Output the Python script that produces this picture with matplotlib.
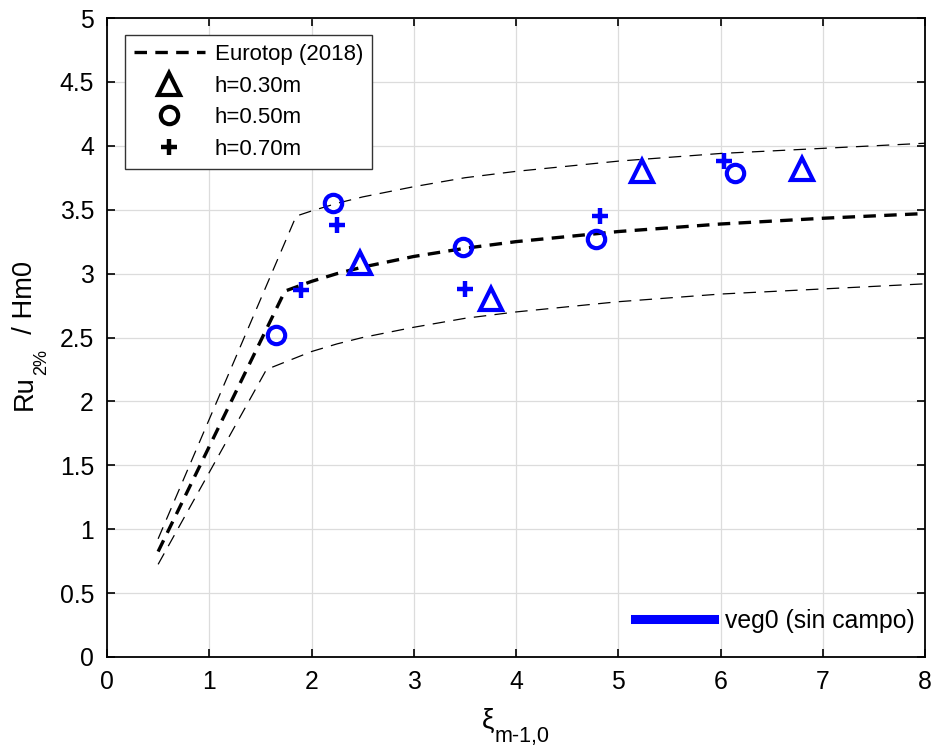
import numpy as np
import matplotlib
matplotlib.use("Agg")
import matplotlib.pyplot as plt
from matplotlib.lines import Line2D

plt.rcParams['font.family'] = ['Liberation Sans', 'DejaVu Sans']
plt.rcParams['lines.scale_dashes'] = False

# Eurotop (2018) curve and its upper / lower band
xi_main = [0.5, 1.74, 2.0, 2.25, 2.5, 3.0, 3.5, 4.0, 5.0, 6.0, 7.0, 8.0]
ru_main = [0.825, 2.863, 2.939, 3.000, 3.051, 3.134, 3.198, 3.250, 3.329, 3.388, 3.433, 3.470]
xi_up = [0.5, 1.85, 2.0, 2.25, 2.5, 3.0, 3.5, 4.0, 5.0, 6.0, 7.0, 8.0]
ru_up = [0.925, 3.450, 3.490, 3.550, 3.600, 3.680, 3.750, 3.800, 3.880, 3.940, 3.980, 4.020]
xi_low = [0.5, 1.56, 2.0, 2.25, 2.5, 3.0, 3.5, 4.0, 5.0, 6.0, 7.0, 8.0]
ru_low = [0.725, 2.250, 2.390, 2.450, 2.500, 2.580, 2.650, 2.700, 2.780, 2.840, 2.880, 2.920]

# ensayos veg0 por profundidad
xi_h30 = [2.47, 3.76, 5.23, 6.80]
ru_h30 = [3.08, 2.80, 3.80, 3.82]
xi_h50 = [1.65, 2.21, 3.48, 4.78, 6.14]
ru_h50 = [2.52, 3.55, 3.21, 3.27, 3.79]
xi_h70 = [1.90, 2.25, 3.50, 4.82, 6.03]
ru_h70 = [2.87, 3.38, 2.88, 3.45, 3.88]

xticks = [0, 1, 2, 3, 4, 5, 6, 7, 8]
yticks = [0, 0.5, 1, 1.5, 2, 2.5, 3, 3.5, 4, 4.5, 5]
yticklabels = ['0', '0.5', '1', '1.5', '2', '2.5', '3', '3.5', '4', '4.5', '5']

blue = '#0000ff'
fs = 17.8
W, H = 935, 748

fig = plt.figure(figsize=(W/100, H/100), dpi=100)
ax = fig.add_axes([107/W, 1-657/H, 818/W, 639/H])

ax.plot(xi_main, ru_main, color='k', lw=2.4, linestyle=(0, (9, 6)), zorder=3)
ax.plot(xi_up, ru_up, color='k', lw=0.9, linestyle=(0, (9, 6)), zorder=3)
ax.plot(xi_low, ru_low, color='k', lw=0.9, linestyle=(0, (9, 6)), zorder=3)

ax.plot(xi_h30, ru_h30, linestyle='none', marker='^', ms=16.5, mfc='none', mec=blue, mew=3, zorder=4)
ax.plot(xi_h50, ru_h50, linestyle='none', marker='o', ms=12.5, mfc='none', mec=blue, mew=3, zorder=4)
ax.plot(xi_h70, ru_h70, linestyle='none', marker='+', ms=12, mec=blue, mew=3.2, zorder=4)

ax.set_xlim(0, 8)
ax.set_ylim(0, 5)
ax.set_xticks(xticks)
ax.set_yticks(yticks)
ax.set_yticklabels(yticklabels)
ax.tick_params(direction='in', length=6, width=1.2, top=True, right=True,
               labelsize=fs, pad=9.4, colors='k')
ax.grid(True, color='#dcdcdc', lw=0.9)
ax.set_axisbelow(True)
for s in ax.spines.values():
    s.set_linewidth(1.3)

# leyenda con símbolos en negro
h = [Line2D([], [], color='k', lw=2.4, linestyle=(0, (9, 6))),
     Line2D([], [], linestyle='none', marker='^', ms=16.5, mfc='none', mec='k', mew=3),
     Line2D([], [], linestyle='none', marker='o', ms=12.5, mfc='none', mec='k', mew=3),
     Line2D([], [], linestyle='none', marker='+', ms=12, mec='k', mew=3.2)]
leg1 = ax.legend(h, ['Eurotop (2018)', 'h=0.30m', 'h=0.50m', 'h=0.70m'],
                 loc='upper left', bbox_to_anchor=(0.022, 0.9734), fontsize=16,
                 frameon=True, fancybox=False, edgecolor='#333333', framealpha=1,
                 handlelength=3.2, handletextpad=0.45, labelspacing=0.48,
                 borderpad=0.4, borderaxespad=0)
leg1.get_frame().set_linewidth(1.0)
ax.add_artist(leg1)

h2 = [Line2D([], [], color=blue, lw=6.5)]
ax.legend(h2, ['veg0 (sin campo)'], loc='lower right', bbox_to_anchor=(1.0, 0.022),
          fontsize=fs, frameon=False, handlelength=3.2, handletextpad=0.45,
          borderpad=0.4, borderaxespad=0)

# etiquetas de ejes con subíndice, montadas por piezas
r = fig.canvas.get_renderer()

t = fig.text(482/W, 1-728/H, 'ξ', fontsize=20, ha='left', va='baseline')
x1 = t.get_window_extent(r).x1
fig.text(x1/W, 1-742/H, 'm-1,0', fontsize=15.5, ha='left', va='baseline')

t = fig.text(32/W, 1-410/H, 'Ru', fontsize=19.6, rotation=90,
             rotation_mode='anchor', ha='left', va='baseline')
y1 = t.get_window_extent(r).y1
t = fig.text(46/W, y1/H, '2%', fontsize=13, rotation=90,
             rotation_mode='anchor', ha='left', va='baseline')
y1 = t.get_window_extent(r).y1
fig.text(32/W, y1/H, '  / Hm0', fontsize=19.6, rotation=90,
         rotation_mode='anchor', ha='left', va='baseline')

fig.savefig('out.png', dpi=100)
